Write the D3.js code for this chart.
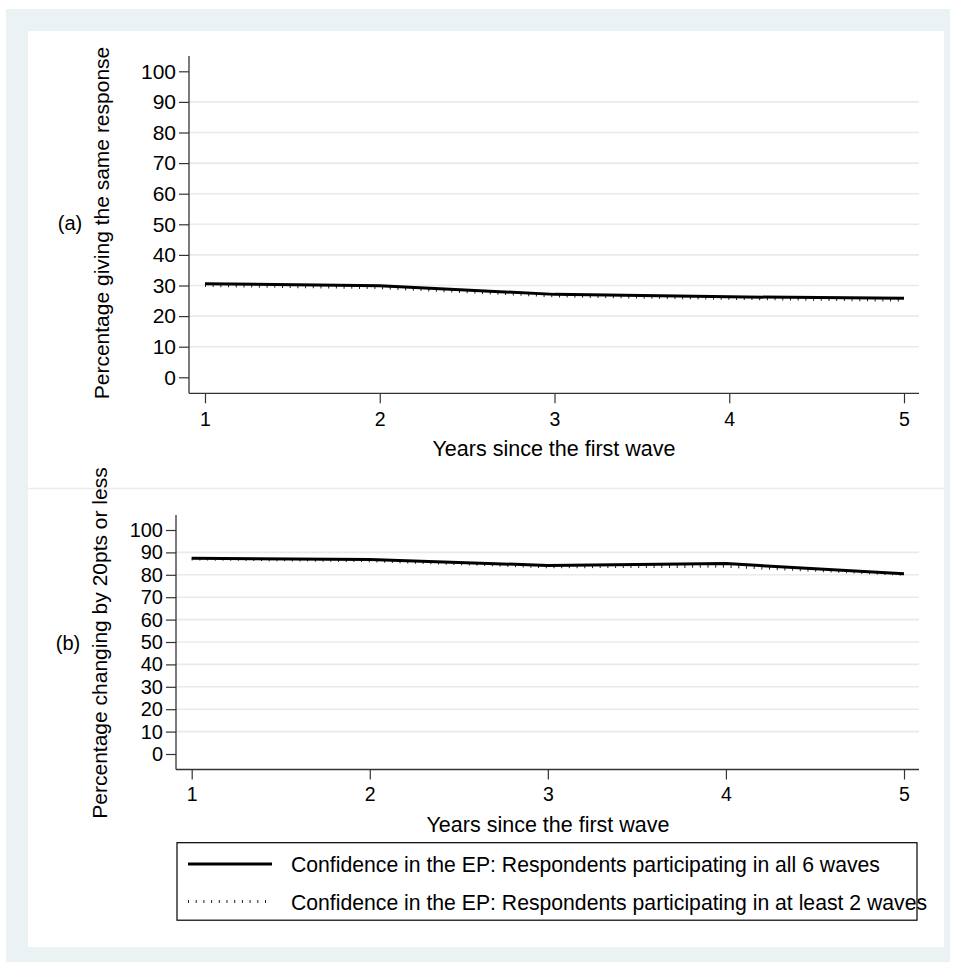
<!DOCTYPE html>
<html>
<head>
<meta charset="utf-8">
<script src="https://cdn.jsdelivr.net/npm/d3@7"></script>
<style>
  body { margin: 0; background: #ffffff; }
  svg text { font-family: "Liberation Sans", Arial, Helvetica, sans-serif; fill: #000; }
</style>
</head>
<body>
<svg id="chart" width="956" height="963"></svg>
<script>
// Data
const years = [1, 2, 3, 4, 5];
const yTicks = [0, 10, 20, 30, 40, 50, 60, 70, 80, 90, 100];
const sameAll6 = [30.6, 29.9, 27.1, 26.3, 25.8];
const sameAtLeast2 = [30.0, 29.3, 26.6, 25.8, 25.2];
const within20All6 = [87.4, 86.8, 84.2, 85.0, 80.5];
const within20AtLeast2 = [87.1, 86.3, 83.6, 83.8, 80.2];
const seriesNames = [
  "Confidence in the EP: Respondents participating in all 6 waves",
  "Confidence in the EP: Respondents participating in at least 2 waves"
];

const svg = d3.select("#chart");

// Stata style outer frame
svg.append("rect").attr("x", 6).attr("y", 9).attr("width", 944).attr("height", 953).attr("fill", "#eaf2f3");
svg.append("rect").attr("x", 28).attr("y", 31).attr("width", 916).attr("height", 916).attr("fill", "#ffffff");

// thin line separating the two sub graphs
svg.append("line")
  .attr("x1", 28).attr("x2", 944).attr("y1", 488.5).attr("y2", 488.5)
  .attr("stroke", "#ececec").attr("stroke-width", 1.5);

// draws one panel, box = axis line positions, inner = where 1..5 / 0..100 fall
function drawPanel(p) {
  const x = d3.scaleLinear().domain([1, 5]).range([p.x1, p.x5]);
  const y = d3.scaleLinear().domain([0, 100]).range([p.y0, p.y100]);
  const g = svg.append("g");

  // gridlines (not at 0 and 100)
  g.selectAll(".grid").data(yTicks.filter(d => d > 0 && d < 100)).enter()
    .append("line")
    .attr("x1", p.left).attr("x2", p.right)
    .attr("y1", d => y(d)).attr("y2", d => y(d))
    .attr("stroke", "#eaeaea").attr("stroke-width", 1.6);

  // y axis
  const yAxis = g.append("g")
    .attr("transform", `translate(${p.left},0)`)
    .call(d3.axisLeft(y).tickValues(yTicks).tickSize(p.tick).tickPadding(3).tickSizeOuter(0));
  yAxis.select(".domain").remove();
  yAxis.selectAll(".tick line").attr("stroke", "#333").attr("stroke-width", 1.2);
  yAxis.selectAll(".tick text").style("font-size", p.yFont + "px").attr("font-family", null);
  g.append("line").attr("x1", p.left).attr("x2", p.left).attr("y1", p.top).attr("y2", p.bottom)
    .attr("stroke", "#333").attr("stroke-width", 1.3);

  // x axis
  const xAxis = g.append("g")
    .attr("transform", `translate(0,${p.bottom})`)
    .call(d3.axisBottom(x).tickValues(years).tickFormat(d3.format("d")).tickSize(p.tick).tickPadding(p.xPad).tickSizeOuter(0));
  xAxis.select(".domain").remove();
  xAxis.selectAll(".tick line").attr("stroke", "#333").attr("stroke-width", 1.2);
  xAxis.selectAll(".tick text").style("font-size", p.xFont + "px").attr("font-family", null);
  g.append("line").attr("x1", p.left).attr("x2", p.right).attr("y1", p.bottom).attr("y2", p.bottom)
    .attr("stroke", "#333").attr("stroke-width", 1.3);

  const line = d3.line().x((d, i) => x(years[i])).y(d => y(d));

  // dotted series first, solid on top
  g.append("path").datum(p.dotted)
    .attr("d", line).attr("fill", "none")
    .attr("stroke", "#222").attr("stroke-width", 3).attr("stroke-dasharray", "1,6.7");
  g.append("path").datum(p.solid)
    .attr("d", line).attr("fill", "none")
    .attr("stroke", "#000").attr("stroke-width", 3).attr("stroke-linejoin", "round");

  // titles
  g.append("text")
    .attr("x", p.xTitleX).attr("y", p.xTitleY)
    .attr("text-anchor", "middle").style("font-size", "21.5px")
    .text("Years since the first wave");
  g.append("text")
    .attr("transform", `translate(${p.yTitleX},${p.yTitleMid}) rotate(-90)`)
    .attr("text-anchor", "middle").style("font-size", "21px")
    .text(p.yTitle);
  g.append("text")
    .attr("x", p.tagX).attr("y", p.yTitleMid + 7)
    .attr("text-anchor", "middle").style("font-size", "20px")
    .text(p.tag);
}

drawPanel({
  left: 189, right: 919, top: 56, bottom: 393.3,
  x1: 205, x5: 904, y0: 377.3, y100: 71.3,
  tick: 10, xPad: 9, yFont: 21, xFont: 19.5,
  solid: sameAll6, dotted: sameAtLeast2,
  xTitleX: 554, xTitleY: 456, yTitleX: 109, yTitleMid: 223,
  yTitle: "Percentage giving the same response", tag: "(a)", tagX: 70
});

drawPanel({
  left: 176, right: 919, top: 515, bottom: 769.5,
  x1: 191.7, x5: 904, y0: 754, y100: 530,
  tick: 10, xPad: 8, yFont: 20, xFont: 19.5,
  solid: within20All6, dotted: within20AtLeast2,
  xTitleX: 548, xTitleY: 832, yTitleX: 107, yTitleMid: 643,
  yTitle: "Percentage changing by 20pts or less", tag: "(b)", tagX: 68
});

// legend box
const legend = svg.append("g");
legend.append("rect")
  .attr("x", 177).attr("y", 842.7).attr("width", 740).attr("height", 77.5)
  .attr("fill", "none").attr("stroke", "#000").attr("stroke-width", 1.2);

const legendRows = legend.selectAll(".row").data(seriesNames).enter()
  .append("g").attr("transform", (d, i) => `translate(0,${864 + i * 37.5})`);
legendRows.append("line")
  .attr("x1", 188).attr("x2", 272).attr("y1", 0).attr("y2", 0)
  .attr("stroke", (d, i) => i === 0 ? "#000" : "#222")
  .attr("stroke-width", 3)
  .attr("stroke-dasharray", (d, i) => i === 0 ? null : "1,6.7");
legendRows.append("text")
  .attr("x", 291).attr("y", 8)
  .style("font-size", "21.2px")
  .text(d => d);
</script>
</body>
</html>
